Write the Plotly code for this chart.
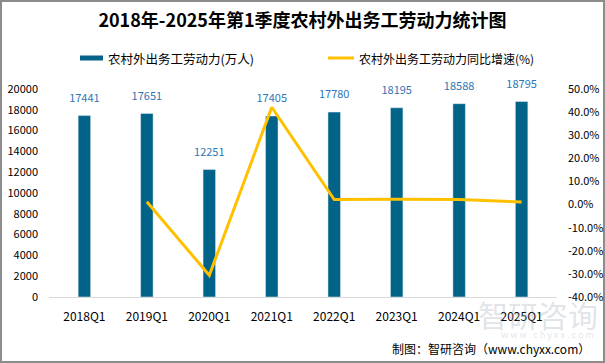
import plotly.graph_objects as go

categories = ["2018Q1", "2019Q1", "2020Q1", "2021Q1", "2022Q1", "2023Q1", "2024Q1", "2025Q1"]
labor = [17441, 17651, 12251, 17405, 17780, 18195, 18588, 18795]
growth_cats = ["2019Q1", "2020Q1", "2021Q1", "2022Q1", "2023Q1", "2024Q1", "2025Q1"]
growth = [1.2, -30.6, 42.1, 2.2, 2.3, 2.2, 1.1]
left_ticks = [0, 2000, 4000, 6000, 8000, 10000, 12000, 14000, 16000, 18000, 20000]
right_ticks = [-40, -30, -20, -10, 0, 10, 20, 30, 40, 50]
right_labels = ["-40.0%", "-30.0%", "-20.0%", "-10.0%", "0.0%", "10.0%", "20.0%", "30.0%", "40.0%", "50.0%"]

FONT = "Noto Sans CJK SC"
BAR_COLOR = "#006387"
LINE_COLOR = "#FFC000"

fig = go.Figure()
fig.add_trace(go.Bar(
    x=categories, y=labor, name="农村外出务工劳动力(万人)",
    marker_color=BAR_COLOR, width=0.2, showlegend=False,
))
fig.add_trace(go.Scatter(
    x=growth_cats, y=growth, yaxis="y2", mode="lines",
    name="农村外出务工劳动力同比增速(%)",
    line=dict(color=LINE_COLOR, width=3), showlegend=False,
))
# bar value labels
fig.add_trace(go.Scatter(
    x=categories, y=labor, mode="markers+text",
    marker=dict(size=16, opacity=0), text=[str(v) for v in labor],
    textposition="top center",
    textfont=dict(color="#2E75B6", size=11, family=FONT),
    cliponaxis=False, showlegend=False, hoverinfo="skip",
))

W, H = 605, 363
L, R, T, B = 49, 48, 89, 66
pw, ph = W - L - R, H - T - B


def px(x):
    return (x - L) / pw


def py(y):
    return (H - B - y) / ph


fig.update_layout(
    width=W, height=H,
    margin=dict(l=L, r=R, t=T, b=B, autoexpand=False),
    paper_bgcolor="white", plot_bgcolor="white",
    font=dict(family=FONT, size=11, color="#000000"),
    title=dict(text="<b>2018年-2025年第1季度农村外出务工劳动力统计图</b>",
               x=0.5, xanchor="center", y=1 - 21 / H, yanchor="middle",
               font=dict(size=18, color="#000000", family=FONT)),
    showlegend=False,
    xaxis=dict(type="category", categoryorder="array", categoryarray=categories,
               showgrid=False, showline=True, linecolor="#D9D9D9", linewidth=1,
               ticks="", ticklabelstandoff=9,
               tickfont=dict(size=12, family=FONT), automargin=False),
    yaxis=dict(range=[0, 20000], tickvals=left_ticks, ticktext=[str(v) for v in left_ticks],
               showgrid=False, showline=False, zeroline=False, ticks="",
               ticklabelstandoff=10,
               tickfont=dict(size=11, family=FONT), automargin=False),
    yaxis2=dict(range=[-40, 50], overlaying="y", side="right",
                tickvals=right_ticks, ticktext=right_labels,
                showgrid=False, zeroline=False, showline=False, ticks="",
                ticklabelstandoff=10,
                tickfont=dict(size=11, family=FONT), automargin=False),
)

# custom legend
fig.add_shape(type="line", xref="paper", yref="paper",
              x0=px(80), x1=px(103), y0=py(58), y1=py(58),
              line=dict(color=BAR_COLOR, width=5))
fig.add_annotation(text="农村外出务工劳动力(万人)", xref="paper", yref="paper",
                   x=px(106), xanchor="left", y=py(58), yanchor="middle",
                   showarrow=False, font=dict(size=12.5, family=FONT, color="#000000"))
fig.add_shape(type="line", xref="paper", yref="paper",
              x0=px(328), x1=px(354), y0=py(58), y1=py(58),
              line=dict(color=LINE_COLOR, width=3))
fig.add_annotation(text="农村外出务工劳动力同比增速(%)", xref="paper", yref="paper",
                   x=px(357), xanchor="left", y=py(58), yanchor="middle",
                   showarrow=False, font=dict(size=12, family=FONT, color="#000000"))

# outer border
fig.add_shape(type="rect", xref="paper", yref="paper",
              x0=px(1), x1=px(W - 1), y0=py(H - 1), y1=py(1),
              line=dict(color="#8C8C8C", width=2), fillcolor="rgba(0,0,0,0)", layer="below")

# watermark
fig.add_annotation(text="智研咨询", xref="paper", yref="paper",
                   x=px(600), xanchor="right", y=py(314), yanchor="middle",
                   showarrow=False, font=dict(size=30, color="rgba(150,160,175,0.3)", family=FONT))
fig.add_annotation(text="w w w . c h y x x . c o m", xref="paper", yref="paper",
                   x=px(596), xanchor="right", y=py(334), yanchor="middle",
                   showarrow=False, font=dict(size=9, color="rgba(150,160,175,0.3)", family=FONT))
# source
fig.add_annotation(text="制图：智研咨询（www.chyxx.com）", xref="paper", yref="paper",
                   x=px(592), xanchor="right", y=py(348), yanchor="middle",
                   showarrow=False, font=dict(size=12, color="#000000", family=FONT))

fig.write_html("out.html", config={"displayModeBar": False},
               post_script="document.body.style.margin='0';document.body.style.padding='0';")
